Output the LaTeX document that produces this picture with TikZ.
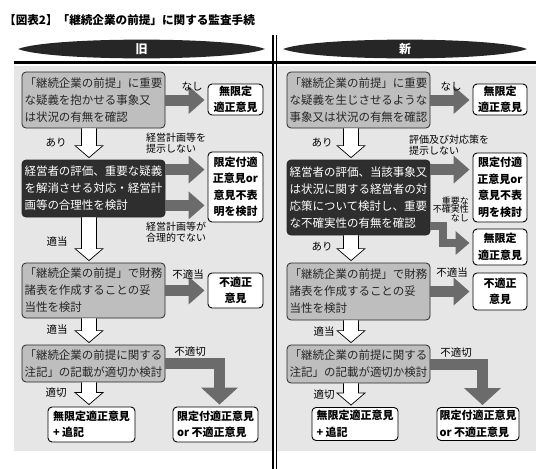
\documentclass[tikz,border=0pt]{standalone}
\usepackage{fontspec}
\setmainfont{Noto Sans CJK JP}
\usetikzlibrary{arrows.meta,calc}
\definecolor{panel}{HTML}{E6E6E6}
\definecolor{boxgray}{HTML}{BEBEBE}
\definecolor{darkbox}{HTML}{2E2E2E}
\definecolor{arrowgray}{HTML}{6B6B6B}
\definecolor{lensdark}{HTML}{262626}
\newcommand\wdown[3]{%
  \filldraw[warrow] let \p1=(#1), \p2=(#2), \p3=(#3) in
    (\x1-7.5pt,\y2) -- (\x1-7.5pt,\y3+14pt) -- (\x1-14pt,\y3+14pt) -- (\x1,\y3+2pt)
    -- (\x1+14pt,\y3+14pt) -- (\x1+7.5pt,\y3+14pt) -- (\x1+7.5pt,\y2);}
\tikzset{
  gbox/.style={draw=black!85, fill=boxgray, rounded corners=4pt, line width=0.8pt,
    minimum width=143pt, align=left, text=black!85,
    font=\fontsize{11.5}{17}\selectfont, inner sep=0pt},
  dbox/.style={gbox, fill=darkbox, text=white},
  rbox/.style={draw=black, fill=white, rounded corners=4pt, line width=0.9pt,
    font=\fontsize{11}{16.5}\selectfont\bfseries, align=center, inner sep=0pt},
  lbl/.style={font=\fontsize{10.5}{11}\selectfont, inner sep=0pt},
  slbl/.style={font=\fontsize{10}{11}\selectfont, inner sep=0pt, align=left, anchor=west},
  garrow/.style={draw=arrowgray, line width=11pt, line join=miter,
    -{Triangle[width=27pt,length=16pt]}, shorten >=3pt},
  warrow/.style={draw=black, fill=white, line width=0.7pt},
  lens/.style={fill=lensdark},
  lenstext/.style={text=white, font=\fontsize{12}{12}\selectfont\bfseries, inner sep=0pt}
}
\begin{document}
\begin{tikzpicture}[x=1pt,y=-1pt]
\useasboundingbox (0,0) rectangle (550,469);
% title
\node[anchor=west, inner sep=0pt, font=\fontsize{11.6}{11.6}\selectfont\bfseries] (title) at (4,20)
  {【図表2】「継続企業の前提」に関する監査手続};
% panels
\fill[panel] (14,66) rectangle (273,451);
\fill[panel] (276,66) rectangle (536,451);
% lenses
\fill[lens] (18,49) .. controls (50,36.5) and (233,36.5) .. (265,49)
  .. controls (233,61.5) and (50,61.5) .. (18,49) -- cycle;
\fill[lens] (283,49) .. controls (315,36.5) and (495,36.5) .. (527,49)
  .. controls (495,61.5) and (315,61.5) .. (283,49) -- cycle;
\node[lenstext] (hold) at (141.5,49) {旧};
\node[lenstext] (hnew) at (405,49) {新};
% separators
\draw[line width=3.5pt] (14,62.5) -- (536,62.5);
\draw[line width=1.1pt] (273,35) -- (273,469);
\draw[line width=1.1pt] (276.5,35) -- (276.5,469);

% ---------- left column ----------
\coordinate (lax) at (89,0);
\node[gbox, minimum height=56pt] (L1) at (93.5,100)
  {「継続企業の前提」に重要\\な疑義を抱かせる事象又\\は状況の有無を確認};
\node[dbox, minimum height=57pt] (L2) at (93.5,188.5)
  {経営者の評価、重要な疑義\\を解消させる対応・経営計\\画等の合理性を検討};
\node[gbox, minimum height=55pt] (L3) at (93.5,290.5)
  {「継続企業の前提」で財務\\諸表を作成することの妥\\当性を検討};
\node[gbox, minimum height=37pt] (L4) at (93.5,363.5)
  {「継続企業の前提に関する\\注記」の記載が適切か検討};
\node[rbox, minimum width=55pt, minimum height=31pt] (LA) at (235.5,99.5) {無限定\\適正意見};
\node[rbox, minimum width=55pt, minimum height=70pt] (LB) at (235.5,187) {限定付適\\正意見or\\意見不表\\明を検討};
\node[rbox, minimum width=55pt, minimum height=35pt] (LC) at (235.5,290.5) {不適正\\意見};
\node[rbox, align=left, minimum width=87pt, minimum height=35pt] (LD) at (91.5,424.5) {無限定適正意見\\+ 追記};
\node[rbox, align=left, minimum width=85pt, minimum height=35pt] (LE) at (215.5,424.5) {限定付適正意見\\or 不適正意見};

\wdown{lax}{L1.south}{L2.north}
\wdown{lax}{L2.south}{L3.north}
\wdown{lax}{L3.south}{L4.north}
\wdown{lax}{L4.south}{LD.north}

\draw[garrow] (L1.east) -- (L1.east -| LA.west);
\coordinate (l2a) at ($(L2.north east)+(0,10)$);
\coordinate (l2b) at ($(L2.south east)+(0,-12)$);
\draw[garrow] (l2a) -- (l2a -| LB.west);
\draw[garrow] (l2b) -- (l2b -| LB.west);
\draw[garrow] (L3.east) -- (L3.east -| LC.west);
\coordinate (letip) at ($(LE.north)+(4,0)$);
\draw[garrow, -{Triangle[width=36pt,length=17pt]}, shorten >=2pt]
  (L4.east) -- (L4.east -| letip) -- (letip);

\node[lbl] (ln1) at (192,87) {なし};
\node[lbl] (ly1) at (56,143) {あり};
\node[slbl] (lp1) at (146,143) {経営計画等を\\提示しない};
\node[slbl] (lp2) at (146,232) {経営計画等が\\合理的でない};
\node[lbl] (lt1) at (57,242) {適当};
\node[lbl] (lu1) at (188,275) {不適当};
\node[lbl] (lt2) at (57,330) {適当};
\node[lbl] (lu2) at (190,352) {不適切};
\node[lbl] (lk1) at (56,393) {適切};

% ---------- right column ----------
\coordinate (rax) at (351,0);
\node[gbox, minimum height=56pt] (R1) at (358.5,100)
  {「継続企業の前提」に重要\\な疑義を生じさせるような\\事象又は状況の有無を確認};
\node[dbox, minimum height=75pt] (R2) at (358.5,197.5)
  {経営者の評価、当該事象又\\は状況に関する経営者の対\\応策について検討し、重要\\な不確実性の有無を確認};
\node[gbox, minimum height=57pt] (R3) at (358.5,291.5)
  {「継続企業の前提」で財務\\諸表を作成することの妥\\当性を検討};
\node[gbox, minimum height=38pt] (R4) at (358.5,364)
  {「継続企業の前提に関する\\注記」の記載が適切か検討};
\node[rbox, minimum width=54pt, minimum height=31pt] (RA) at (500,99.5) {無限定\\適正意見};
\node[rbox, minimum width=54pt, minimum height=69pt] (RB) at (500,187.5) {限定付適\\正意見or\\意見不表\\明を検討};
\node[rbox, minimum width=54pt, minimum height=36pt] (RA2) at (500,247) {無限定\\適正意見};
\node[rbox, minimum width=54pt, minimum height=37pt] (RC) at (500,291.5) {不適正\\意見};
\node[rbox, align=left, minimum width=86pt, minimum height=33pt] (RD) at (355,424) {無限定適正意見\\+ 追記};
\node[rbox, align=left, minimum width=82pt, minimum height=33pt] (RE) at (478,424) {限定付適正意見\\or 不適正意見};

\wdown{rax}{R1.south}{R2.north}
\wdown{rax}{R2.south}{R3.north}
\wdown{rax}{R3.south}{R4.north}
\wdown{rax}{R4.south}{RD.north}

\draw[garrow] (R1.east) -- (R1.east -| RA.west);
\coordinate (r2a) at ($(R2.north east)+(0,10)$);
\draw[garrow] (r2a) -- (r2a -| RB.west);
\coordinate (r2s) at ($(R2.south east)+(0,-9)$);
\coordinate (r2t) at ($(RA2.west)+(0,-4)$);
\coordinate (r2c) at ($(r2s)+(13,0)$);
\draw[garrow, line width=8pt, -{Triangle[width=23pt,length=14pt]}]
  (r2s) -- (r2c) -- (r2c |- r2t) -- (r2t);
\draw[garrow] (R3.east) -- (R3.east -| RC.west);
\coordinate (retip) at ($(RE.north)+(4.5,0)$);
\draw[garrow, -{Triangle[width=36pt,length=17pt]}, shorten >=2pt]
  (R4.east) -- (R4.east -| retip) -- (retip);

\node[lbl] (rn1) at (451,87) {なし};
\node[lbl] (ry1) at (322,143) {あり};
\node[slbl] (rp1) at (409,145.5) {評価及び対応策を\\提示しない};
\node[inner sep=0pt, align=right, anchor=east, font=\fontsize{9}{8.5}\selectfont] (rs1) at (469,209) {重要な\\不確実性\\なし};
\node[lbl] (ry2) at (322,247) {あり};
\node[lbl] (ru1) at (452,273) {不適当};
\node[lbl] (rt1) at (324,332) {適当};
\node[lbl] (ru2) at (456,353) {不適切};
\node[lbl] (rk1) at (324,395) {適切};
\end{tikzpicture}
\end{document}
